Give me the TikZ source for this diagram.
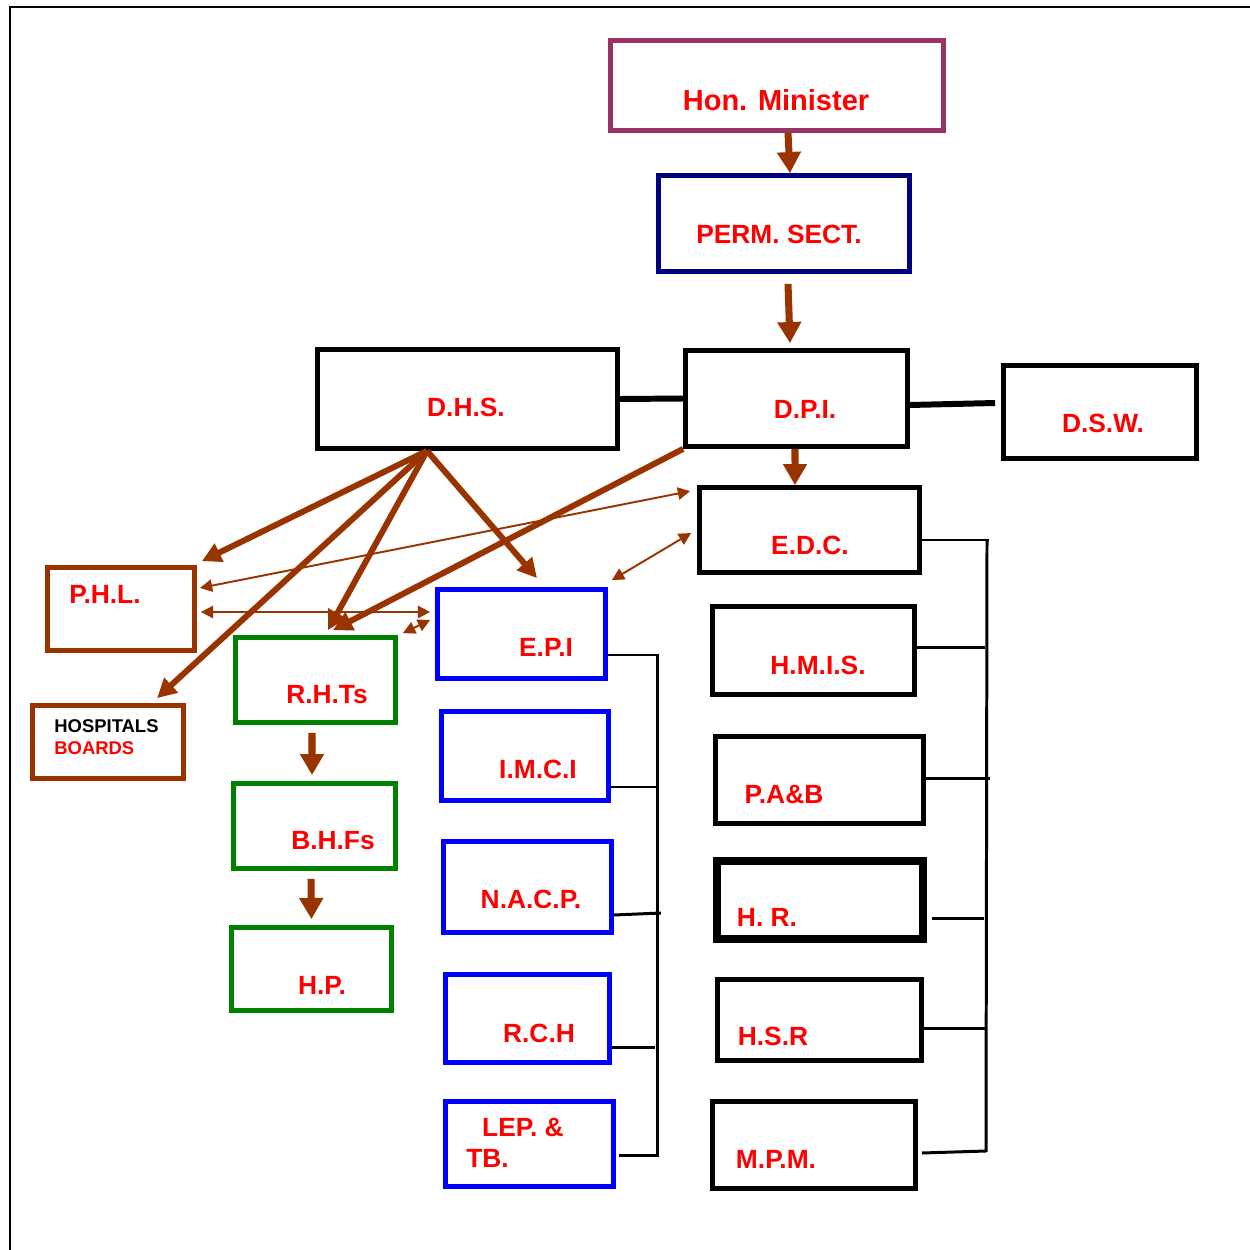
\documentclass[tikz,border=0pt]{standalone}
\usepackage{fontspec}
\setmainfont{Liberation Sans}
\usetikzlibrary{arrows.meta}
\definecolor{hbrown}{HTML}{993300}
\definecolor{hplum}{HTML}{993366}
\definecolor{hnavy}{HTML}{000080}
\definecolor{hgreen}{HTML}{008000}
\definecolor{hblue}{HTML}{0000FF}
\definecolor{hred}{HTML}{FF0000}

\begin{document}
\begin{tikzpicture}[x=0.02cm,y=-0.02cm,
	box/.style={draw=#1,line width=3pt,inner sep=0pt},
	txt/.style={text=hred,font=\fontsize{15}{18}\selectfont\bfseries,inner sep=0pt},
	down/.style={draw=hbrown,line width=4pt,-{Triangle[length=12pt,width=13pt]}},
	feed/.style={draw=hbrown,line width=3.4pt,-{Triangle[length=11pt,width=11pt]}},
	link/.style={draw=hbrown,line width=1.1pt,{Triangle[length=7pt,width=7pt]}-{Triangle[length=7pt,width=7pt]}},
	tie/.style={line width=3.4pt},
	bus/.style={line width=1.7pt}]
	\clip (0,0) rectangle (1250,1250);
	\useasboundingbox (0,0) rectangle (1250,1250);
	\draw[line width=1.1pt] (10,1260) -- (10,7) -- (1260,7);
	% top of the chart
	\node[box=hplum,minimum width=6.65cm,minimum height=1.79cm] (hon) at (777,85.5) {};
	\node[txt,font=\fontsize{16.5}{19}\selectfont\bfseries] (hon-t) at (776,100) {Hon. Minister};
	\node[box=hnavy,minimum width=5.01cm,minimum height=1.91cm] (perm) at (784,223.5) {};
	\node[txt] (perm-t) at (779,234) {PERM. SECT.};
	\node[box=black,minimum width=5.99cm,minimum height=1.97cm] (dhs) at (467.5,399) {};
	\node[txt] (dhs-t) at (466,407) {D.H.S.};
	\node[box=black,minimum width=4.43cm,minimum height=1.91cm] (dpi) at (796.5,398.5) {};
	\node[txt] (dpi-t) at (805,409) {D.P.I.};
	\node[box=black,minimum width=3.85cm,minimum height=1.85cm] (dsw) at (1100,412) {};
	\node[txt] (dsw-t) at (1103,423) {D.S.W.};
	% right column
	\node[box=black,minimum width=4.39cm,minimum height=1.69cm] (edc) at (809.5,530) {};
	\node[txt] (edc-t) at (810,545) {E.D.C.};
	\node[box=black,minimum width=4.03cm,minimum height=1.75cm] (hmis) at (813.5,650.5) {};
	\node[txt] (hmis-t) at (818,665) {H.M.I.S.};
	\node[box=black,minimum width=4.15cm,minimum height=1.73cm] (pab) at (819.5,780) {};
	\node[txt] (pab-t) at (784,795) {P.A\&B};
	\node[box=black,line width=4.5pt,minimum width=4.12cm,minimum height=1.56cm] (hr) at (820,900) {};
	\node[txt] (hr-t) at (767,917) {H. R.};
	\node[box=black,minimum width=4.07cm,minimum height=1.61cm] (hsr) at (819.5,1020) {};
	\node[txt] (hsr-t) at (773,1036) {H.S.R};
	\node[box=black,minimum width=4.05cm,minimum height=1.73cm] (mpm) at (814,1145) {};
	\node[txt] (mpm-t) at (776,1159) {M.P.M.};
	% left side
	\node[box=hbrown,minimum width=2.93cm,minimum height=1.65cm] (phl) at (121,609) {};
	\node[txt] (phl-t) at (105,594) {P.H.L.};
	\node[box=hbrown,minimum width=3.01cm,minimum height=1.45cm] (hosp) at (108,742) {};
	\node[txt,text=black,font=\fontsize{10.5}{12.5}\selectfont\bfseries,align=left,anchor=west] (hosp-t) at (54,737) {HOSPITALS\\\textcolor{hred}{BOARDS}};
	\node[box=hgreen,minimum width=3.19cm,minimum height=1.69cm] (rht) at (315.5,680) {};
	\node[txt] (rht-t) at (327,695) {R.H.Ts};
	\node[box=hgreen,minimum width=3.23cm,minimum height=1.69cm] (bhf) at (314.5,826) {};
	\node[txt] (bhf-t) at (333,841) {B.H.Fs};
	\node[box=hgreen,minimum width=3.19cm,minimum height=1.65cm] (hp) at (311.5,969) {};
	\node[txt] (hp-t) at (322,985) {H.P.};
	% programmes
	\node[box=hblue,minimum width=3.35cm,minimum height=1.77cm] (epi) at (521.5,634) {};
	\node[txt] (epi-t) at (546,647) {E.P.I};
	\node[box=hblue,minimum width=3.33cm,minimum height=1.77cm] (imci) at (525,756) {};
	\node[txt] (imci-t) at (538,769) {I.M.C.I};
	\node[box=hblue,minimum width=3.35cm,minimum height=1.81cm] (nacp) at (527.5,887) {};
	\node[txt] (nacp-t) at (531,899) {N.A.C.P.};
	\node[box=hblue,minimum width=3.27cm,minimum height=1.75cm] (rch) at (527.5,1018.5) {};
	\node[txt] (rch-t) at (539,1033) {R.C.H};
	\node[box=hblue,minimum width=3.35cm,minimum height=1.69cm] (lep) at (529.5,1144) {};
	\node[txt,align=left,anchor=west,font=\fontsize{15}{18}\selectfont\bfseries] (lep-t) at (466,1143) {\hspace{9pt}LEP. \&\\TB.};
	% chain of command
	\draw[down] ([xshift=0.22cm]hon.south) -- ([xshift=0.12cm]perm.north);
	\draw[down] ([xshift=0.08cm,yshift=-0.2cm]perm.south) -- ([xshift=-0.13cm,yshift=0.1cm]dpi.north);
	\draw[down] ([xshift=-0.03cm]dpi.south) -- ([xshift=-0.29cm]edc.north);
	\draw[down] ([xshift=-0.07cm,yshift=-0.16cm]rht.south) -- ([xshift=-0.05cm,yshift=0.12cm]bhf.north);
	\draw[down] ([xshift=-0.07cm,yshift=-0.16cm]bhf.south) -- ([yshift=0.12cm]hp.north);
	\draw[tie] (dhs.east) -- (dpi.west);
	\draw[tie] ([yshift=-0.13cm]dpi.east) -- ([xshift=-0.12cm,yshift=0.18cm]dsw.west);
	% D.H.S. fan
	\coordinate (fan) at ([xshift=-0.81cm]dhs.south);
	\draw[feed] (fan) -- ([xshift=0.1cm,yshift=0.08cm]phl.north east);
	\draw[feed] (fan) -- ([xshift=0.98cm,yshift=0.1cm]hosp.north);
	\draw[feed] (fan) -- ([xshift=0.25cm,yshift=0.1cm]rht.north);
	\draw[feed] (fan) -- ([xshift=0.31cm,yshift=0.18cm]epi.north);
	\draw[feed] (dpi.south west) -- ([xshift=0.35cm,yshift=0.1cm]rht.north);
	% two way links
	\draw[link] ([xshift=0.06cm,yshift=0.42cm]phl.east) -- ([xshift=-0.14cm,yshift=-0.12cm]edc.north west);
	\draw[link] ([xshift=0.08cm,yshift=-0.06cm]phl.east) -- ([xshift=-0.1cm,yshift=0.44cm]epi.west);
	\draw[link] ([xshift=0.1cm,yshift=0.04cm]rht.north east) -- ([xshift=-0.1cm,yshift=0.28cm]epi.west);
	\draw[link] ([xshift=0.08cm,yshift=0.14cm]epi.north east) -- ([xshift=-0.12cm,yshift=-0.06cm]edc.west);
	% brackets
	\coordinate (busl-top) at (657,655);
	\coordinate (busl-bot) at (657,1157);
	\draw[bus] (busl-top) -- (busl-bot);
	\draw[bus] ([yshift=-0.42cm]epi.east) -- +(51,0);
	\draw[bus] ([yshift=-0.62cm]imci.east) -- +(48,0);
	\draw[bus] ([yshift=-0.56cm]nacp.east) -- +(47,-2);
	\draw[bus] ([yshift=-0.57cm]rch.east) -- +(43,0);
	\draw[bus] ([xshift=0.06cm,yshift=-0.22cm]lep.east) -- +(40,0);
	\coordinate (busr-top) at (987,540);
	\coordinate (busr-bot) at (986,1152);
	\draw[bus] (busr-top) -- (busr-bot);
	\draw[bus] ([yshift=-0.2cm]edc.east) -- +(67,0);
	\draw[bus] ([yshift=0.07cm]hmis.east) -- +(68,0);
	\draw[bus] ([yshift=0.04cm]pab.east) -- +(64,0);
	\draw[bus] ([xshift=0.1cm,yshift=-0.36cm]hr.east) -- +(52,0);
	\draw[bus] ([yshift=-0.16cm]hsr.east) -- +(63,0);
	\draw[bus] ([xshift=0.08cm,yshift=-0.16cm]mpm.east) -- +(64,-2);
\end{tikzpicture}
\end{document}
